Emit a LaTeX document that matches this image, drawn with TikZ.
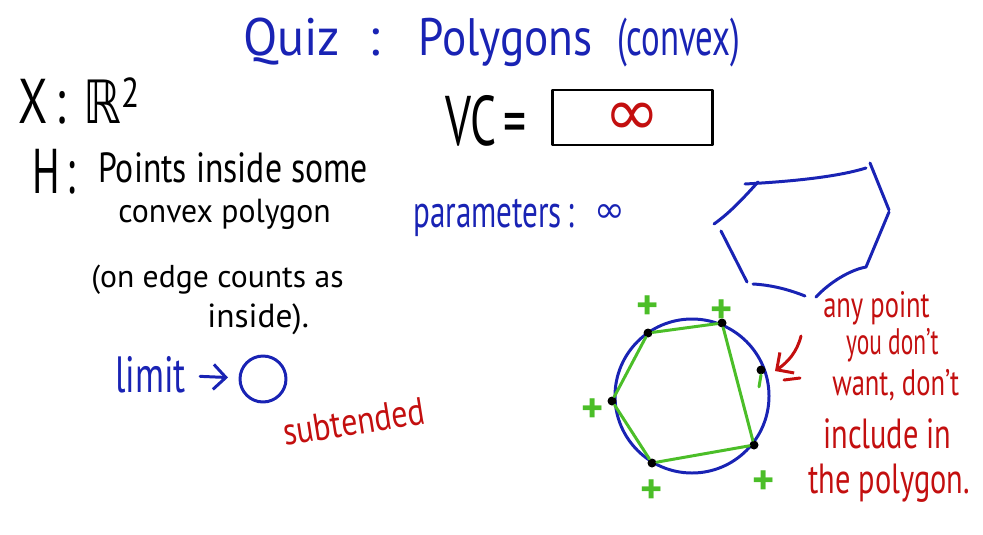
\documentclass[tikz,border=0pt]{standalone}
\usepackage{fontspec}
\setmainfont{PT Sans}
\newfontfamily\symfont{DejaVu Sans}
\usetikzlibrary{arrows.meta}

\definecolor{inkblue}{RGB}{25,35,180}
\definecolor{inkred}{RGB}{195,15,15}
\definecolor{inkgreen}{RGB}{75,190,40}

\begin{document}
\begin{tikzpicture}[x=0.02cm,y=-0.02cm,
  hand/.style={inner sep=0pt,anchor=base west,transform shape},
  ink/.style={line width=1.7pt,line cap=round,line join=round},
  dot/.style={circle,fill=black,inner sep=0pt,minimum size=1.8mm},
  plus/.style={text=inkgreen,font=\fontsize{24}{24}\selectfont\bfseries,inner sep=0pt},
  redtxt/.style={hand,text=inkred,xscale=0.72,font=\fontsize{21}{21}\selectfont}
]
\useasboundingbox (0,0) rectangle (983,534);

% title
\node[hand,text=inkblue,xscale=0.95,font=\fontsize{30}{30}\selectfont] (quiz) at (243,55) {Quiz};
\node[hand,text=inkblue,font=\fontsize{30}{30}\selectfont] (tcolon) at (368,55) {:};
\node[hand,text=inkblue,xscale=0.86,font=\fontsize{30}{30}\selectfont] (polys) at (418,55) {Polygons};
\node[hand,text=inkblue,xscale=0.66,font=\fontsize{30}{30}\selectfont] (cvx) at (617,55) {(convex)};

% left column
\node[hand,xscale=0.75,font=\fontsize{36}{36}\selectfont] (xsp) at (18,123) {X\,:};
\node[hand,xscale=0.8,font=\fontsize{34}{34}\selectfont] (rr) at (83,123) {{\symfont ℝ}\textsuperscript{2}};
\node[hand,xscale=0.65,font=\fontsize{36}{36}\selectfont] (hyp) at (32,193) {H\,:};
\node[hand,xscale=0.8,font=\fontsize{24}{24}\selectfont] (line1) at (98,182) {Points inside some};
\node[hand,xscale=0.95,font=\fontsize{19}{19}\selectfont] (line2) at (118,222) {convex polygon};
\node[hand,xscale=1.0,font=\fontsize{18}{18}\selectfont] (line3) at (91,287) {(on edge counts as};
\node[hand,xscale=1.0,font=\fontsize{19}{19}\selectfont] (line4) at (207,327) {inside).};

% limit
\node[hand,text=inkblue,xscale=0.7,font=\fontsize{29}{29}\selectfont] (limit) at (115,392) {limit};
\node[circle,draw=inkblue,ink,inner sep=0pt,minimum size=0.92cm] (zero) at (263,379) {};
\draw[ink,inkblue,-{Straight Barb[length=2.5mm]},shorten <=8pt,shorten >=6pt] (limit) -- (zero);
\node[hand,text=inkred,rotate=9,xscale=0.83,font=\fontsize{22}{22}\selectfont] (subt) at (285,446) {subtended};

% VC box
\node[hand,xscale=0.65,font=\fontsize{40}{40}\selectfont] (vc) at (445,145) {VC\,=};
\draw[ink] (552,90) rectangle (712,145);
\node[text=inkred,font=\fontsize{38}{38}\symfont] (vcval) at (632,119) {∞};

% parameters
\node[hand,text=inkblue,xscale=0.68,font=\fontsize{26}{26}\selectfont] (params) at (413,227) {parameters\,:};
\node[text=inkblue,font=\fontsize{21}{21}\symfont] (pinf) at (610,214) {∞};

% broken hexagon
\draw[ink,inkblue] (745,184) .. controls (800,181) and (840,176) .. (866,168);
\draw[ink,inkblue] (758,182) .. controls (740,202) and (728,214) .. (714,224);
\draw[ink,inkblue] (721,231) -- (747,282);
\draw[ink,inkblue] (753,284) .. controls (772,285) and (790,290) .. (805,296);
\draw[ink,inkblue] (816,297) .. controls (830,282) and (850,270) .. (866,267) -- (889,212);
\draw[ink,inkblue] (870,163) -- (889,210);

% circle with points
\draw[ink,inkblue] (692,396) circle (77);
\node[dot] (p1) at (648,333) {};
\node[dot] (p2) at (722,323) {};
\node[dot] (px) at (761,370) {};
\node[dot] (p3) at (754,445) {};
\node[dot] (p4) at (652,463) {};
\node[dot] (p5) at (612,401) {};
\draw[ink,inkgreen] (p1) -- (p2) -- (p3) -- (p4) -- (p5) -- (p1);
\draw[ink,inkgreen] (px.south) -- ++(-2,12);
\node[plus] (s1) at (648,308) {+};
\node[plus] (s2) at (722,312) {+};
\node[plus] (s3) at (593,411) {+};
\node[plus] (s4) at (652,492) {+};
\node[plus] (s5) at (764,483) {+};

% red note
\coordinate (tail) at (801,336);
\coordinate (head) at (775,371);
\draw[ink,inkred,-{Straight Barb[length=2.5mm]}] (tail) .. controls (797,352) and (788,362) .. (head);
\draw[ink,inkred] (784,380) -- (800,378);
\node[redtxt] (n1) at (823,317) {any point};
\node[redtxt,xscale=0.88] (n2) at (846,354) {you don't};
\node[redtxt] (n3) at (832,395) {want, don't};
\node[redtxt,font=\fontsize{24}{24}\selectfont] (n4) at (823,448) {include in};
\node[redtxt,font=\fontsize{24}{24}\selectfont] (n5) at (808,493) {the polygon.};
\end{tikzpicture}
\end{document}
